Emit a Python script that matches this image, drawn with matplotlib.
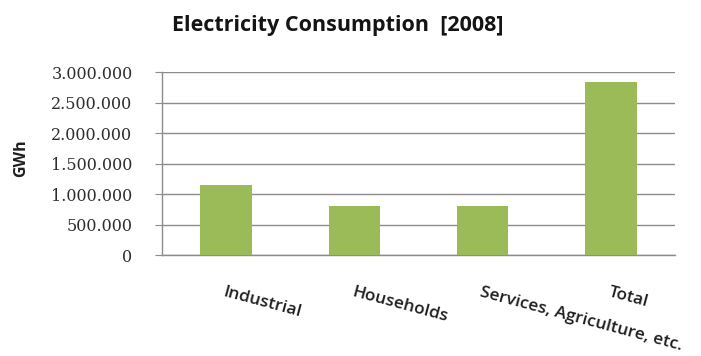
import numpy as np
import matplotlib.pyplot as plt
from matplotlib.ticker import FuncFormatter

categories = ["Industrial", "Households", "Services, Agriculture, etc.", "Total"]
consumption_gwh = [1150000, 810000, 810000, 2840000]
y_ticks = [0, 500000, 1000000, 1500000, 2000000, 2500000, 3000000]

bar_color = "#9BBB59"
grid_color = "#8C8C8C"
text_color = "#1f1f1f"


def dotted_thousands(v, pos):
    # 2500000 -> 2.500.000
    return f"{int(v):,}".replace(",", ".")


fig = plt.figure(figsize=(7.01, 3.56), dpi=100)
ax = fig.add_axes([0.2307, 0.2829, 0.7324, 0.5141])

x = np.arange(len(categories))
ax.bar(x, consumption_gwh, width=0.4, color=bar_color, zorder=3)

ax.set_xlim(-0.5, len(categories) - 0.5)
ax.set_ylim(0, 3000000)
ax.set_yticks(y_ticks)
ax.yaxis.set_major_formatter(FuncFormatter(dotted_thousands))
ax.grid(axis="y", color=grid_color, linewidth=1.0, zorder=0)

for side in ["top", "right"]:
    ax.spines[side].set_visible(False)
for side in ["left", "bottom"]:
    ax.spines[side].set_color(grid_color)
    ax.spines[side].set_linewidth(1.0)

ax.tick_params(axis="y", length=5, color=grid_color, pad=16,
               labelsize=11.5, labelcolor="#2e2e2e")
for lbl in ax.get_yticklabels():
    lbl.set_family("DejaVu Serif")

ax.set_xticks(x)
ax.set_xticklabels(categories, rotation=-15, rotation_mode="anchor",
                   ha="left", va="top", fontsize=12.4, fontweight="semibold",
                   family="Open Sans", color=text_color)
ax.tick_params(axis="x", length=0, pad=21)

ax.set_ylabel("GWh", fontsize=11.5, fontweight="bold", family="Open Sans",
              color=text_color)
ax.yaxis.set_label_coords(-0.258, 0.532)

fig.text(0.482, 0.928, "Electricity Consumption  [2008]", ha="center",
         va="center", fontsize=15.5, fontweight="bold", family="Open Sans",
         color="#141414")

fig.savefig("out.png", dpi=100)
